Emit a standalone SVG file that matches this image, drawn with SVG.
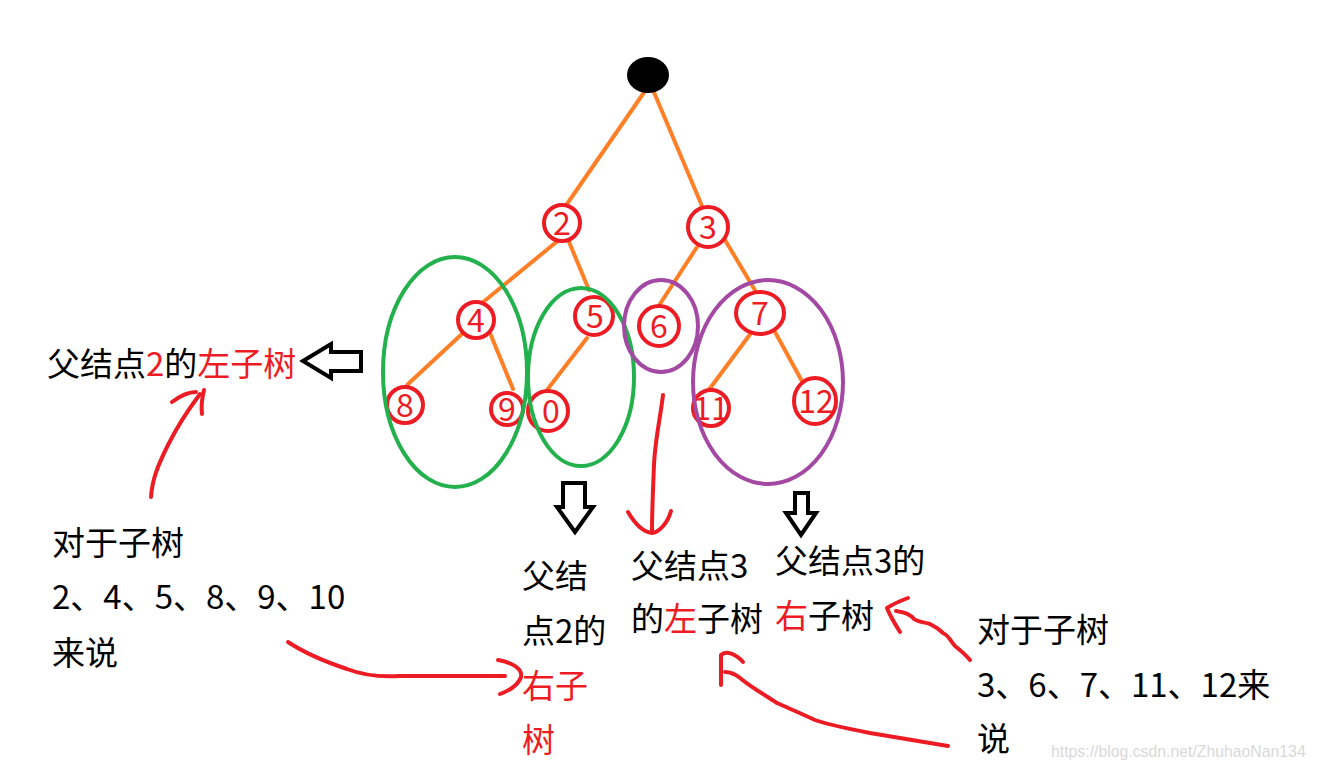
<svg xmlns="http://www.w3.org/2000/svg" width="1317" height="772" viewBox="0 0 1317 772">
<style>
.edge{stroke:#ff7f27;stroke-width:4;stroke-linecap:round;fill:none}
.node{fill:#fff;stroke:#ed1c24;stroke-width:4}
.num{font-family:"Noto Sans CJK SC","Liberation Sans",sans-serif;font-size:32px;fill:#ed1c24;text-anchor:middle}
.green{fill:none;stroke:#22b14c;stroke-width:4}
.purple{fill:none;stroke:#a349a4;stroke-width:4}
.txt{font-family:"Noto Sans CJK SC","Liberation Sans",sans-serif;font-size:33px;fill:#000}
.r{fill:#ed1c24}
.hand{fill:none;stroke:#ed1c24;stroke-width:4;stroke-linecap:round;stroke-linejoin:round}
.blk{fill:#fff;stroke:#000;stroke-width:4;stroke-linejoin:miter}
</style>
<rect width="1317" height="772" fill="#fff"/>
<g id="connectors">
<line class="edge" x1="645" y1="91" x2="567" y2="204"/>
<line class="edge" x1="653" y1="90" x2="702" y2="206"/>
<line class="edge" x1="560" y1="239" x2="482" y2="303"/>
<line class="edge" x1="567" y1="237" x2="589" y2="290"/>
<line class="edge" x1="697" y1="247" x2="658" y2="307"/>
<line class="edge" x1="725" y1="240" x2="756" y2="292"/>
<line class="edge" x1="463" y1="333" x2="407" y2="385"/>
<line class="edge" x1="490" y1="333" x2="513" y2="389"/>
<line class="edge" x1="587" y1="338" x2="547" y2="390"/>
<line class="edge" x1="751" y1="333" x2="708" y2="391"/>
<line class="edge" x1="775" y1="332" x2="803" y2="383"/>
</g>
<g id="root"><ellipse cx="648" cy="75" rx="21" ry="18" fill="#000"/></g>
<g id="n2"><circle class="node" cx="562" cy="223" r="18"/><text class="num" x="562" y="235">2</text></g>
<g id="n3"><circle class="node" cx="708" cy="227" r="20"/><text class="num" x="708" y="239">3</text></g>
<g id="n4"><circle class="node" cx="476" cy="320" r="18"/><text class="num" x="476" y="332">4</text></g>
<g id="n5"><circle class="node" cx="594" cy="316" r="19"/><text class="num" x="595" y="328">5</text></g>
<g id="n6"><circle class="node" cx="659" cy="326" r="20"/><text class="num" x="659" y="338">6</text></g>
<g id="n7"><ellipse class="node" cx="760" cy="313" rx="24" ry="21"/><text class="num" x="760" y="325">7</text></g>
<g id="n8"><circle class="node" cx="405" cy="405" r="18"/><text class="num" x="405" y="417">8</text></g>
<g id="n9"><circle class="node" cx="507" cy="409" r="16"/><text class="num" x="507" y="421">9</text></g>
<g id="n10"><circle class="node" cx="548" cy="411" r="20"/><text class="num" x="551" y="423">0</text></g>
<g id="n11"><circle class="node" cx="711" cy="408" r="18"/><text class="num" x="711" y="420">11</text></g>
<g id="n12"><ellipse class="node" cx="815" cy="401" rx="21" ry="23"/><text class="num" x="816" y="413">12</text></g>
<g id="groups">
<ellipse class="green" cx="455" cy="372" rx="72" ry="115"/>
<ellipse class="green" cx="581" cy="377" rx="53" ry="89"/>
<ellipse class="purple" cx="661" cy="326" rx="37" ry="46"/>
<ellipse class="purple" cx="768" cy="382" rx="75" ry="102"/>
</g>
<g id="black-arrows">
<polygon class="blk" points="303,361 331,344 331,352 361,352 361,371 331,371 331,378"/>
<polygon class="blk" points="563,483 585,483 585,507 593,507 575,532 557,507 563,507"/>
<polygon class="blk" points="795,493 808,493 808,513 816,513 801,535 786,513 795,513"/>
</g>
<g id="red-arrows">
<path class="hand" d="M663,395 C660,420 655,440 654,465 C653,490 652,510 652,532"/>
<path class="hand" d="M628,512 C635,524 644,532 652,533 C660,532 668,522 671,511"/>
<path class="hand" d="M151,497 C152,480 158,465 168,445 C178,425 188,410 200,394"/>
<path class="hand" d="M172,402 C180,396 188,392 196,392 M204,390 C202,398 201,406 202,414"/>
<path class="hand" d="M288,642 C300,650 320,660 347,669 C365,676 385,677 400,676 L505,676"/>
<path class="hand" d="M498,660 C510,662 523,668 521,677 C518,686 508,691 500,694"/>
<path class="hand" d="M948,746 C925,742 900,738 870,733 C845,728 825,724 815,720 C800,713 788,708 777,703 C765,695 752,688 740,678 C735,674 730,672 725,672"/>
<path class="hand" d="M721,685 L721,655 C726,650 736,654 743,662"/>
<path class="hand" d="M970,660 C965,654 960,650 955,646 C950,640 948,635 943,633 C938,628 934,626 930,624 C924,622 918,622 914,619 C910,614 904,612 896,611"/>
<path class="hand" d="M908,598 C900,601 893,604 887,608 C890,616 895,624 900,632"/>
</g>
<g id="labels">
<text class="txt" x="47" y="376">父结点<tspan class="r">2</tspan>的<tspan class="r">左子树</tspan></text>
<text class="txt" x="52" y="555">对于子树</text>
<text class="txt" x="52" y="609">2、4、5、8、9、10</text>
<text class="txt" x="52" y="665">来说</text>
<text class="txt" x="522" y="588">父结</text>
<text class="txt" x="522" y="643">点2的</text>
<text class="txt r" x="522" y="698">右子</text>
<text class="txt r" x="522" y="752">树</text>
<text class="txt" x="631" y="578">父结点3</text>
<text class="txt" x="631" y="631">的<tspan class="r">左</tspan>子树</text>
<text class="txt" x="775" y="573">父结点3的</text>
<text class="txt" x="775" y="628"><tspan class="r">右</tspan>子树</text>
<text class="txt" x="977" y="642">对于子树</text>
<text class="txt" x="977" y="697">3、6、7、11、12来</text>
<text class="txt" x="977" y="751">说</text>
<text x="1051" y="757" font-family="Liberation Sans, Arial, sans-serif" font-size="15.8" fill="#d9d9d9">https://blog.csdn.net/ZhuhaoNan134</text>
</g>
</svg>
